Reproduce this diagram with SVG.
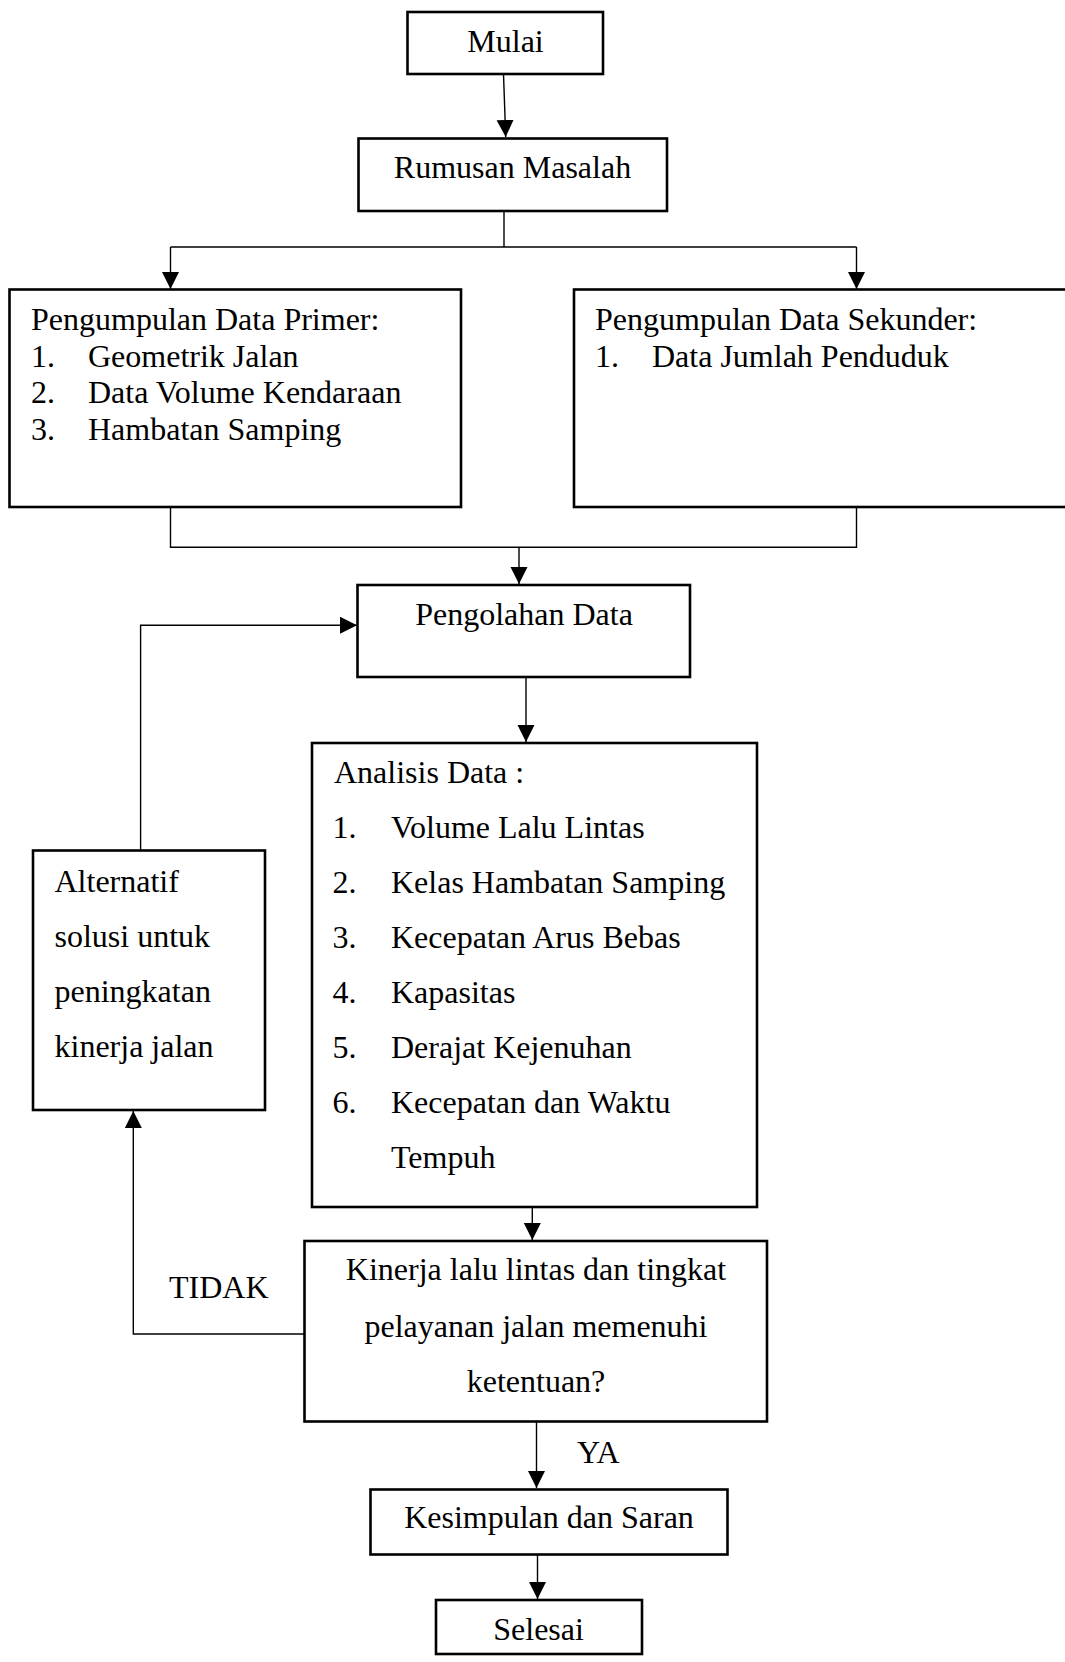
<svg xmlns="http://www.w3.org/2000/svg" width="1065" height="1662" viewBox="0 0 1065 1662">
<style>
.box{fill:#fff;stroke:#000;stroke-width:2.6}
.ln{fill:none;stroke:#000;stroke-width:1.4}
text{font-family:"Liberation Serif","Times New Roman",serif;font-size:32px;fill:#000}
.c{text-anchor:middle}
</style>
<defs>
<marker id="ah" markerUnits="userSpaceOnUse" markerWidth="18" markerHeight="18" viewBox="0 0 18 18" refX="17" refY="9" orient="auto">
<path d="M0,0.5 L17,9 L0,17.5 Z" fill="#000"/>
</marker>
</defs>
<rect width="1065" height="1662" fill="#fff"/>
<g id="connectors">
<path class="ln" d="M503.5,74 L505.7,137" marker-end="url(#ah)"/>
<path class="ln" d="M504,211 V247 M170.5,247 H856.5"/>
<path class="ln" d="M170.5,247 V289" marker-end="url(#ah)"/>
<path class="ln" d="M856.5,247 V289" marker-end="url(#ah)"/>
<path class="ln" d="M170.5,507 V547.3 H856.5 V507"/>
<path class="ln" d="M519,547.3 V584" marker-end="url(#ah)"/>
<path class="ln" d="M526,677 V742" marker-end="url(#ah)"/>
<path class="ln" d="M140.6,850 V625.3 H357" marker-end="url(#ah)"/>
<path class="ln" d="M532.3,1207 V1240" marker-end="url(#ah)"/>
<path class="ln" d="M304.5,1334 H133.3 V1111" marker-end="url(#ah)"/>
<path class="ln" d="M536.5,1422 V1488" marker-end="url(#ah)"/>
<path class="ln" d="M537.5,1554.5 V1599" marker-end="url(#ah)"/>
</g>
<g id="mulai">
<rect class="box" x="407.5" y="12" width="195.5" height="62"/>
<text class="c" x="505.5" y="52">Mulai</text>
</g>
<g id="rumusan">
<rect class="box" x="358.5" y="138.5" width="308.5" height="72.5"/>
<text class="c" x="512.5" y="178">Rumusan Masalah</text>
</g>
<g id="primer">
<rect class="box" x="9.5" y="289.5" width="451.5" height="217.5"/>
<text x="31" y="330">Pengumpulan Data Primer:</text>
<text x="31" y="366.7">1.</text><text x="88" y="366.7">Geometrik Jalan</text>
<text x="31" y="403.3">2.</text><text x="88" y="403.3">Data Volume Kendaraan</text>
<text x="31" y="440">3.</text><text x="88" y="440">Hambatan Samping</text>
</g>
<g id="sekunder">
<rect class="box" x="574" y="289.5" width="500" height="217.5"/>
<text x="595" y="330">Pengumpulan Data Sekunder:</text>
<text x="595" y="366.7">1.</text><text x="652" y="366.7">Data Jumlah Penduduk</text>
</g>
<g id="pengolahan">
<rect class="box" x="357.5" y="585" width="332.5" height="92"/>
<text class="c" x="524" y="625">Pengolahan Data</text>
</g>
<g id="analisis">
<rect class="box" x="312" y="743" width="445" height="464"/>
<text x="334" y="783">Analisis Data :</text>
<text x="332.5" y="838.3">1.</text><text x="391" y="838.3">Volume Lalu Lintas</text>
<text x="332.5" y="893.3">2.</text><text x="391" y="893.3">Kelas Hambatan Samping</text>
<text x="332.5" y="948.3">3.</text><text x="391" y="948.3">Kecepatan Arus Bebas</text>
<text x="332.5" y="1003.3">4.</text><text x="391" y="1003.3">Kapasitas</text>
<text x="332.5" y="1058.3">5.</text><text x="391" y="1058.3">Derajat Kejenuhan</text>
<text x="332.5" y="1113.3">6.</text><text x="391" y="1113.3">Kecepatan dan Waktu</text>
<text x="391" y="1168.3">Tempuh</text>
</g>
<g id="alternatif">
<rect class="box" x="33" y="850.5" width="232" height="259.5"/>
<text x="54.5" y="891.7">Alternatif</text>
<text x="54.5" y="946.7">solusi untuk</text>
<text x="54.5" y="1001.7">peningkatan</text>
<text x="54.5" y="1056.7">kinerja jalan</text>
</g>
<g id="kinerja">
<rect class="box" x="304.5" y="1241" width="462.5" height="180.5"/>
<text class="c" x="536" y="1280">Kinerja lalu lintas dan tingkat</text>
<text class="c" x="536" y="1336.7">pelayanan jalan memenuhi</text>
<text class="c" x="536" y="1391.7">ketentuan?</text>
</g>
<g id="labels">
<text x="169" y="1298.3">TIDAK</text>
<text x="577" y="1463.3">YA</text>
</g>
<g id="kesimpulan">
<rect class="box" x="370.5" y="1489.5" width="357" height="65"/>
<text class="c" x="549" y="1528.3">Kesimpulan dan Saran</text>
</g>
<g id="selesai">
<rect class="box" x="436" y="1600" width="206" height="54"/>
<text class="c" x="538.6" y="1640">Selesai</text>
</g>
</svg>
